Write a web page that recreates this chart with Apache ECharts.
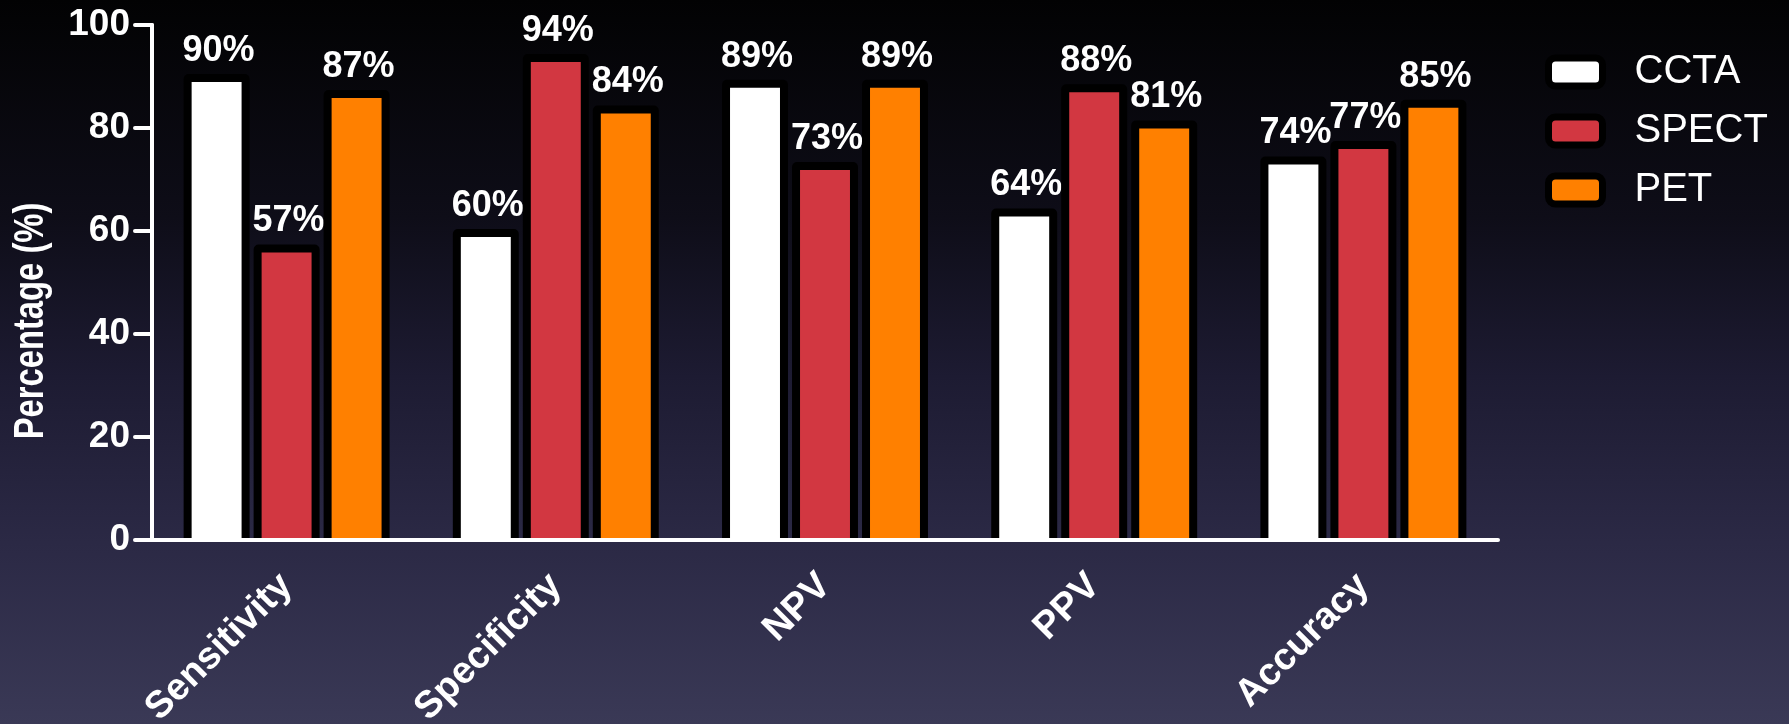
<!DOCTYPE html>
<html>
<head>
<meta charset="utf-8">
<script src="https://cdn.jsdelivr.net/npm/echarts@6/dist/echarts.min.js"></script>
<style>
html,body{margin:0;padding:0;background:#000;}
#chart{width:1789px;height:724px;}
</style>
</head>
<body>
<div id="chart"></div>
<script>
// ---- data ----
const categories = ['Sensitivity', 'Specificity', 'NPV', 'PPV', 'Accuracy'];
const seriesNames = ['CCTA', 'SPECT', 'PET'];
const ccta  = [89.7, 59.6, 88.6, 63.6, 73.7];
const spect = [56.6, 93.6, 72.6, 87.7, 76.7];
const pet   = [86.6, 83.6, 88.6, 80.7, 84.7];
const yTicks = [0, 20, 40, 60, 80, 100];
const yTitle = 'Percentage (%)';

const FONT = "'Liberation Sans', Arial, Helvetica, sans-serif";
const colors = ['#ffffff', '#d23741', '#ff8000'];
const allValues = [ccta, spect, pet];

function makeRender(idx, color) {
  return function (params, api) {
    const cat = api.value(0);
    const val = api.value(1);
    const base = api.coord([cat, 0]);
    const top = api.coord([cat, val]);
    const band = api.size([1, 0])[0];
    const cx = base[0] + (idx - 1) * band * 0.26;
    const outerW = band * 0.245;
    const bw = 8;
    const innerW = outerW - 2 * bw;
    return {
      type: 'group',
      children: [
        { type: 'rect',
          shape: { x: cx - outerW / 2, y: top[1] - bw / 2, width: outerW, height: base[1] - top[1] + bw / 2, r: [5, 5, 0, 0] },
          style: { fill: '#000000' } },
        { type: 'rect',
          shape: { x: cx - innerW / 2, y: top[1] + bw / 2, width: innerW, height: base[1] - top[1] - bw / 2 },
          style: { fill: color } },
        { type: 'text',
          style: { text: Math.round(val) + '%', x: cx + 2, y: top[1] - 27,
                   align: 'center', verticalAlign: 'middle',
                   fill: '#ffffff', font: 'bold 36px ' + FONT } }
      ]
    };
  };
}

const chart = echarts.init(document.getElementById('chart'));
const option = {
  backgroundColor: {
    type: 'linear', x: 0, y: 0, x2: 0, y2: 1,
    colorStops: [
      { offset: 0, color: '#020203' },
      { offset: 0.3, color: '#0e0d18' },
      { offset: 0.52, color: '#1d1b32' },
      { offset: 0.75, color: '#2b2945' },
      { offset: 1, color: '#3a3956' }
    ]
  },
  animation: false,
  grid: { left: 152, right: 291, top: 25, bottom: 184, containLabel: false, outerBoundsMode: 'none' },
  graphic: [{
    type: 'text',
    x: 31, y: 321,
    rotation: Math.PI / 2,
    scaleX: 0.78,
    style: { text: yTitle, fill: '#ffffff', font: 'bold 42px ' + FONT, align: 'center', verticalAlign: 'middle' }
  }],
  legend: {
    orient: 'vertical',
    left: 1545, top: 50,
    padding: 0,
    itemWidth: 54, itemHeight: 28, itemGap: 15,
    icon: 'roundRect',
    data: seriesNames.map((n, i) => ({
      name: n,
      itemStyle: { color: colors[i], borderColor: '#000000', borderWidth: 7 }
    })),
    textStyle: { color: '#ffffff', fontSize: 40, fontFamily: FONT, lineHeight: 44, padding: [0, 0, 0, 27] }
  },
  xAxis: {
    type: 'category',
    data: categories,
    z: 10,
    axisLine: { lineStyle: { color: '#ffffff', width: 4, cap: 'round' } },
    axisTick: { alignWithLabel: true, length: 15, lineStyle: { color: '#ffffff', width: 4, cap: 'round' } },
    axisLabel: { interval: 0, rotate: 45, margin: 40, color: '#ffffff', fontSize: 38, fontWeight: 'bold', fontFamily: FONT }
  },
  yAxis: {
    type: 'value',
    min: yTicks[0], max: yTicks[yTicks.length - 1], interval: 20,
    z: 10,
    splitLine: { show: false },
    axisLine: { show: true, lineStyle: { color: '#ffffff', width: 4, cap: 'round' } },
    axisTick: { show: true, length: 17, lineStyle: { color: '#ffffff', width: 4, cap: 'round' } },
    axisLabel: { margin: 22, color: '#ffffff', fontSize: 37, fontWeight: 'bold', fontFamily: FONT }
  },
  series: seriesNames.map((name, i) => ({
    name: name,
    type: 'custom',
    itemStyle: { color: colors[i], borderColor: '#000000', borderWidth: 7 },
    renderItem: makeRender(i, colors[i]),
    encode: { x: 0, y: 1 },
    data: allValues[i].map((v, j) => [j, v])
  }))
};
chart.setOption(option);
</script>
</body>
</html>
